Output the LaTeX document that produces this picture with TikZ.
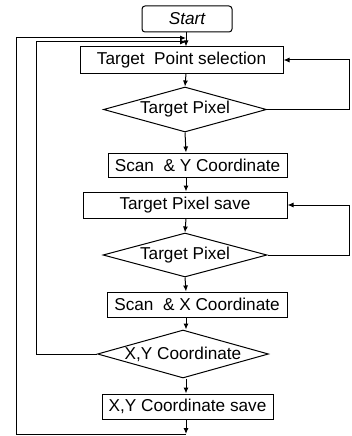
\documentclass[tikz,border=0pt]{standalone}
\usepackage{fontspec}
\setmainfont{Liberation Sans}
\usetikzlibrary{shapes.geometric,arrows.meta,calc}
\begin{document}
\begin{tikzpicture}[x=1pt,y=-1pt,
  every node/.style={font=\fontsize{17.2}{19}\selectfont, inner sep=0pt},
  box/.style={draw, line width=1pt, rectangle},
  dec/.style={draw, line width=1pt, diamond},
  arr/.style={line width=1pt, -{Latex[length=6pt,width=5pt]}},
  ln/.style={line width=1pt}]
\useasboundingbox (0,0) rectangle (351,436);
% nodes
\node[box, rounded corners=3pt, minimum width=90pt, minimum height=26pt] (start) at (187,19) {\itshape Start};
\node[box, minimum width=203pt, minimum height=26pt] (tps) at (181.5,60) {Target\ \ Point selection};
\node[dec, aspect=3.6, minimum width=163pt, minimum height=45pt] (d1) at (185,109.5) {Target Pixel};
\node[box, minimum width=179pt, minimum height=24pt] (scy) at (197.5,165) {Scan\ \ \& Y Coordinate};
\node[box, minimum width=204pt, minimum height=26pt] (tpsave) at (185,205) {Target Pixel save};
\node[dec, aspect=3.7, minimum width=164pt, minimum height=44pt] (d2) at (185,255) {Target Pixel};
\node[box, minimum width=180pt, minimum height=25pt] (scx) at (197,304.5) {Scan\ \ \& X Coordinate};
\node[dec, aspect=3.56, minimum width=171pt, minimum height=48pt] (d3) at (183,354) {X,Y Coordinate};
\node[box, minimum width=171pt, minimum height=25pt] (xysave) at (187.5,406.5) {X,Y Coordinate save};
% helper coordinates
\coordinate (ax) at (186,0);
\coordinate (rx) at (349,0);
\coordinate (lo) at (16,0);
\coordinate (li) at (36,0);
\coordinate (topo) at (186,38);
\coordinate (topi) at (186,42);
\coordinate (endp) at (186,434);
% main flow
\draw[arr] (start.south -| ax) -- (tps.north -| ax);
\draw[arr] (tps.south -| ax) -- (d1.north);
\draw[arr] (d1.south) -- (scy.north -| ax);
\draw[arr] (scy.south -| ax) -- (tpsave.north -| ax);
\draw[arr] (tpsave.south -| ax) -- (d2.north);
\draw[arr] (d2.south) -- (scx.north -| ax);
\draw[arr] (scx.south -| ax) -- (d3.north -| ax);
\draw[arr] (d3.south -| ax) -- (xysave.north -| ax);
\draw[arr] (xysave.south -| ax) -- (endp);
% right feedback loops
\draw[arr] (d1.east) -- (d1.east -| rx) |- (tps.east);
\draw[arr] (d2.east) -- (d2.east -| rx) |- (tpsave.east);
% left loops
\draw[arr] (d3.west) -- (d3.west -| li) |- (topi);
\draw[arr] (endp) -- (endp -| lo) |- (topo);
\end{tikzpicture}
\end{document}
